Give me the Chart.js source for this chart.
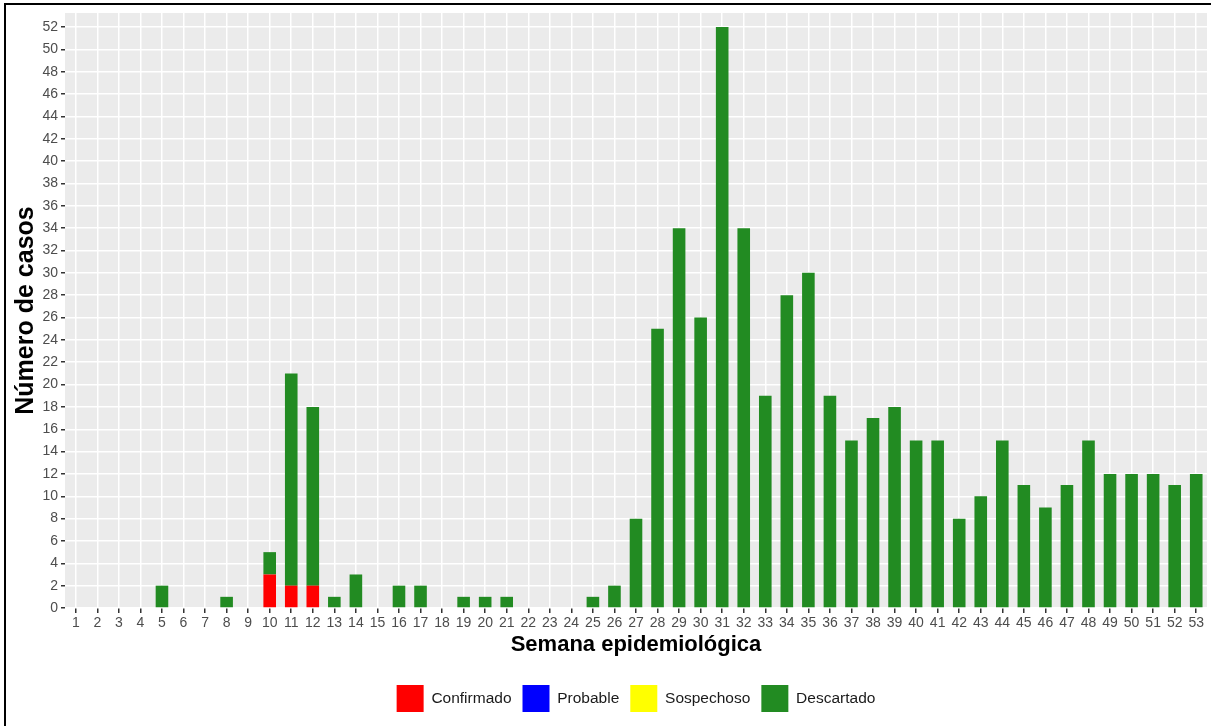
<!DOCTYPE html>
<html>
<head>
<meta charset="utf-8">
<script src="https://cdn.jsdelivr.net/npm/chart.js@4.4.1/dist/chart.umd.min.js"></script>
<style>
    html, body { margin: 0; padding: 0; background: #fff; }
    #wrap { position: relative; width: 1211px; height: 726px; }
    #frame {
        position: absolute; left: 4px; top: 3px; right: 0; bottom: 0;
        border-left: 2px solid #000; border-top: 2px solid #000;
        pointer-events: none;
    }
</style>
</head>
<body>
<div id="wrap">
    <canvas id="casosChart" width="1211" height="726"></canvas>
    <div id="frame"></div>
</div>
<script>
// Semanas epidemiológicas 1..53
const semanas = ['1','2','3','4','5','6','7','8','9','10','11','12','13','14','15','16','17','18','19','20',
    '21','22','23','24','25','26','27','28','29','30','31','32','33','34','35','36','37','38','39','40',
    '41','42','43','44','45','46','47','48','49','50','51','52','53'];

const confirmado = [0,0,0,0,0,0,0,0,0,3,2,2,0,0,0,0,0,0,0,0,
    0,0,0,0,0,0,0,0,0,0,0,0,0,0,0,0,0,0,0,0,
    0,0,0,0,0,0,0,0,0,0,0,0,0];

const probable = [0,0,0,0,0,0,0,0,0,0,0,0,0,0,0,0,0,0,0,0,
    0,0,0,0,0,0,0,0,0,0,0,0,0,0,0,0,0,0,0,0,
    0,0,0,0,0,0,0,0,0,0,0,0,0];

const sospechoso = [0,0,0,0,0,0,0,0,0,0,0,0,0,0,0,0,0,0,0,0,
    0,0,0,0,0,0,0,0,0,0,0,0,0,0,0,0,0,0,0,0,
    0,0,0,0,0,0,0,0,0,0,0,0,0];

const descartado = [0,0,0,0,2,0,0,1,0,2,19,16,1,3,0,2,2,0,1,1,
    1,0,0,0,1,2,8,25,34,26,52,34,19,28,30,19,15,17,18,15,
    15,8,10,15,11,9,11,15,12,12,12,11,12];

const yMax = 53.26;

// gray ggplot-like panel behind the grid
const panelBackground = {
    id: 'panelBackground',
    beforeDraw(chart) {
        const { ctx, chartArea } = chart;
        ctx.save();
        ctx.fillStyle = '#EBEBEB';
        ctx.fillRect(chartArea.left, chartArea.top, chartArea.right - chartArea.left, chartArea.bottom - chartArea.top);
        ctx.restore();
    }
};

const tickFont = { family: 'Liberation Sans, Arial, sans-serif', size: 14 };
const titleFont = { family: 'Liberation Sans, Arial, sans-serif', weight: 'bold' };

const ctx = document.getElementById('casosChart').getContext('2d');
new Chart(ctx, {
    type: 'bar',
    data: {
        labels: semanas,
        datasets: [
            { label: 'Confirmado', data: confirmado, backgroundColor: '#FF0000' },
            { label: 'Probable', data: probable, backgroundColor: '#0000FF' },
            { label: 'Sospechoso', data: sospechoso, backgroundColor: '#FFFF00' },
            { label: 'Descartado', data: descartado, backgroundColor: '#228B22' }
        ]
    },
    options: {
        responsive: false,
        animation: false,
        layout: { padding: { left: 0, right: 4, top: 13, bottom: 4 } },
        datasets: {
            bar: { barPercentage: 0.585, categoryPercentage: 1, borderWidth: 0 }
        },
        plugins: {
            tooltip: { enabled: false },
            legend: {
                position: 'bottom',
                fullSize: false,
                labels: {
                    boxWidth: 27,
                    boxHeight: 27,
                    padding: 11,
                    color: '#1a1a1a',
                    font: { family: 'Liberation Sans, Arial, sans-serif', size: 15.5 }
                }
            }
        },
        scales: {
            x: {
                stacked: true,
                offset: true,
                grid: {
                    offset: false,
                    color: '#FFFFFF',
                    lineWidth: 1.5,
                    tickColor: '#333333',
                    tickWidth: 1.5,
                    tickLength: 5
                },
                border: { display: false },
                ticks: {
                    autoSkip: false,
                    maxRotation: 0,
                    padding: 2,
                    color: '#4D4D4D',
                    font: tickFont
                },
                title: {
                    display: true,
                    text: 'Semana epidemiológica',
                    color: '#000',
                    font: { ...titleFont, size: 22 },
                    padding: { top: 0, bottom: 16 }
                },
                afterFit(scale) { scale.height = 66; }
            },
            y: {
                stacked: true,
                min: 0,
                max: yMax,
                grid: {
                    color: '#FFFFFF',
                    lineWidth: 1.5,
                    tickColor: '#333333',
                    tickWidth: 1.5,
                    tickLength: 4
                },
                border: { display: false },
                ticks: {
                    stepSize: 2,
                    includeBounds: false,
                    padding: 3,
                    color: '#4D4D4D',
                    font: tickFont
                },
                title: {
                    display: true,
                    text: 'Número de casos',
                    color: '#000',
                    font: { ...titleFont, size: 25 },
                    padding: { top: 11, bottom: 0 }
                },
                afterFit(scale) { scale.width = 65; }
            }
        }
    },
    plugins: [panelBackground]
});
</script>
</body>
</html>
